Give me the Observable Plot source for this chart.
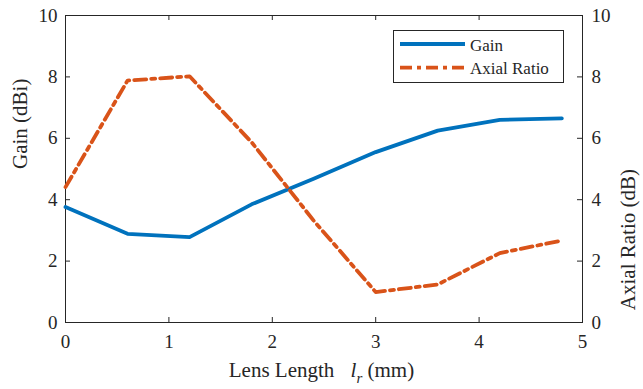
<!DOCTYPE html>
<html><head><meta charset="utf-8">
<script src="https://cdn.jsdelivr.net/npm/d3@7"></script>
<script src="https://cdn.jsdelivr.net/npm/@observablehq/plot@0.6"></script>
<style>
body{margin:0;background:#fff;}
#wrap{position:relative;width:643px;height:389px;font-family:"Liberation Serif","Times New Roman",Times,"DejaVu Serif",serif;color:#262626;}
#xlabel{position:absolute;left:0;top:360px;width:643px;text-align:center;font-size:21px;line-height:1;white-space:nowrap;}
#xlabel i.l{margin-left:11px;}
#xlabel sub{font-size:15px;vertical-align:-6px;line-height:0;}
#legend{position:absolute;left:393px;top:30px;}
</style></head><body><div id="wrap"></div>
<script>
const lensLength = [0, 0.6, 1.2, 1.8, 2.4, 3.0, 3.6, 4.2, 4.8];
const gain = [3.76, 2.89, 2.78, 3.85, 4.68, 5.55, 6.25, 6.6, 6.65];
const axialRatio = [4.41, 7.88, 8.02, 5.87, 3.32, 0.99, 1.24, 2.26, 2.67];
const xTicks = [0, 1, 2, 3, 4, 5];
const yTicks = [0, 2, 4, 6, 8, 10];
const seriesNames = ["Gain", "Axial Ratio"];
const colors = ["#0072BD", "#D95319"];
const dash = "12,5,4,5";
const serif = '"Liberation Serif","Times New Roman",Times,"DejaVu Serif",serif';

const data = lensLength.map((l, i) => ({l, gain: gain[i], ar: axialRatio[i]}));

const W = 643, H = 389, mL = 65, mR = 61, mT = 15, mB = 67;
const innerW = W - mL - mR, innerH = H - mT - mB;
const axisColor = "#262626";

const chart = Plot.plot({
  width: W, height: H,
  marginLeft: mL, marginRight: mR, marginTop: mT, marginBottom: mB,
  style: {fontFamily: serif, fontSize: "19px", color: axisColor, background: "white"},
  x: {domain: [0, 5]},
  y: {domain: [0, 10]},
  marks: [
    Plot.frame({stroke: axisColor, strokeWidth: 1}),
    Plot.tickX(xTicks, {x: d => d, insetTop: innerH - 5, stroke: axisColor}),
    Plot.tickX(xTicks, {x: d => d, insetBottom: innerH - 5, stroke: axisColor}),
    Plot.tickY(yTicks, {y: d => d, insetRight: innerW - 5, stroke: axisColor}),
    Plot.tickY(yTicks, {y: d => d, insetLeft: innerW - 5, stroke: axisColor}),
    Plot.axisX({ticks: xTicks, tickSize: 0, tickPadding: 12, label: null, tickFormat: d => String(d)}),
    Plot.axisY({ticks: yTicks, tickSize: 0, tickPadding: 8, label: null, tickFormat: d => String(d)}),
    Plot.axisY({anchor: "right", ticks: yTicks, tickSize: 0, tickPadding: 9, label: null, tickFormat: d => String(d)}),
    Plot.line(data, {x: "l", y: "gain", stroke: colors[0], strokeWidth: 3.8}),
    Plot.line(data, {x: "l", y: "ar", stroke: colors[1], strokeWidth: 3.8, strokeDasharray: dash}),
    Plot.text(["Gain (dBi)"], {frameAnchor: "left", dx: -45, rotate: -90, fontSize: 21, fill: axisColor}),
    Plot.text(["Axial Ratio (dB)"], {frameAnchor: "right", dx: 46, rotate: -90, fontSize: 21, fill: axisColor})
  ]
});
const wrap = document.getElementById("wrap");
wrap.appendChild(chart);

const xl = document.createElement("div");
xl.id = "xlabel";
xl.innerHTML = 'Lens Length <i class="l">l</i><sub><i>r</i></sub> (mm)';
wrap.appendChild(xl);

const lg = document.createElement("div");
lg.id = "legend";
const ys = [14, 37.7];
const baselines = [20.7, 44.3];
let s = `<svg width="171" height="53" xmlns="http://www.w3.org/2000/svg">
<rect x="0.5" y="0.5" width="170" height="52" fill="white" stroke="${axisColor}" stroke-width="1"/>`;
seriesNames.forEach((n, i) => {
  s += `<line x1="7" x2="72" y1="${ys[i]}" y2="${ys[i]}" stroke="${colors[i]}" stroke-width="3.8" ${i === 1 ? `stroke-dasharray="${dash}"` : ""}/>`;
  s += `<text x="77" y="${baselines[i]}" font-size="17" fill="${axisColor}">${n}</text>`;
});
s += `</svg>`;
lg.innerHTML = s;
wrap.appendChild(lg);
</script>
</body></html>
